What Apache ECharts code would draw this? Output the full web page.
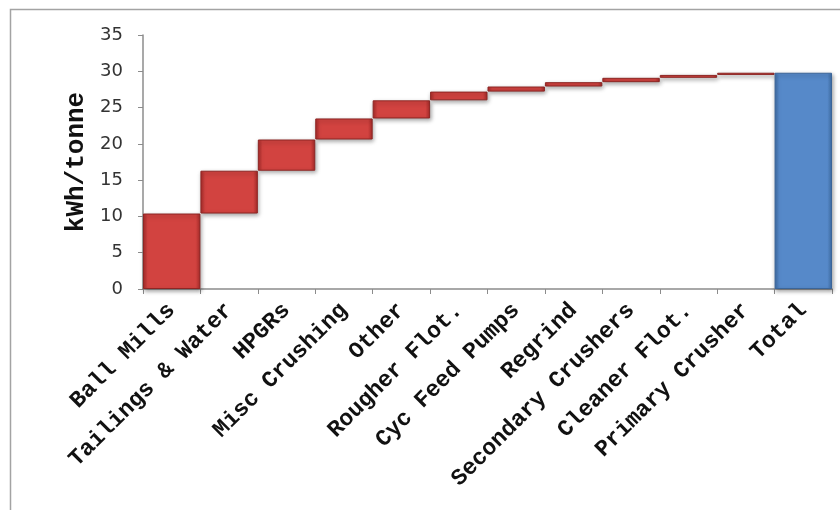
<!DOCTYPE html>
<html>
<head>
<meta charset="utf-8">
<title>Energy use by area (kWh/tonne)</title>
<script src="https://cdn.jsdelivr.net/npm/echarts@6/dist/echarts.min.js"></script>
<style>
  html, body { margin: 0; padding: 0; background: #ffffff; }
  #chart { width: 840px; height: 510px; }
</style>
</head>
<body>
<div id="chart"></div>
<script>
// Plant areas, in the order they are stepped up on the waterfall
const categories = [
  'Ball Mills', 'Tailings & Water', 'HPGRs', 'Misc Crushing', 'Other',
  'Rougher Flot.', 'Cyc Feed Pumps', 'Regrind', 'Secondary Crushers',
  'Cleaner Flot.', 'Primary Crusher', 'Total'
];

// Specific energy of each area, kWh/tonne
const increments = [10.4, 5.9, 4.3, 2.9, 2.5, 1.2, 0.7, 0.6, 0.6, 0.4, 0.3];

// Total specific energy, kWh/tonne
const total = 29.8;

// Y axis
const yMin = 0, yMax = 35, yStep = 5;

// Invisible base of each floating step = running sum of the earlier areas
const bases = [];
let run = 0;
increments.forEach(v => { bases.push(+run.toFixed(2)); run += v; });
bases.push(0);

const redFill = {
  type: 'linear', x: 0, y: 0, x2: 1, y2: 0,
  colorStops: [
    { offset: 0, color: '#a92b29' },
    { offset: 0.08, color: '#d24340' },
    { offset: 0.92, color: '#d24340' },
    { offset: 1, color: '#a92b29' }
  ]
};
const blueFill = {
  type: 'linear', x: 0, y: 0, x2: 1, y2: 0,
  colorStops: [
    { offset: 0, color: '#3f6ea6' },
    { offset: 0.08, color: '#5689c9' },
    { offset: 0.92, color: '#5689c9' },
    { offset: 1, color: '#3f6ea6' }
  ]
};

const stepData = increments.map(v => ({ value: v }));
stepData.push({
  value: total,
  itemStyle: { color: blueFill, borderColor: '#3b6598' }
});

const monoBold = '"Liberation Mono", "Courier New", monospace';

const chart = echarts.init(document.getElementById('chart'), null, { renderer: 'canvas' });

chart.setOption({
  animation: false,
  backgroundColor: '#ffffff',
  graphic: [{
    type: 'rect',
    shape: { x: 10.5, y: 9.5, width: 900, height: 600 },
    style: { fill: 'none', stroke: '#a3a3a3', lineWidth: 1.5 },
    silent: true
  }],
  grid: { left: 143, right: 8, top: 35, bottom: 221, containLabel: false },
  xAxis: {
    type: 'category',
    data: categories,
    boundaryGap: true,
    axisLine: { lineStyle: { color: '#8c8c8c', width: 1.5 } },
    axisTick: { show: true, length: 5, inside: false, lineStyle: { color: '#8c8c8c' } },
    axisLabel: {
      rotate: 45,
      interval: 0,
      margin: 18,
      fontFamily: monoBold,
      fontWeight: 'bold',
      fontSize: 23,
      color: '#111111'
    },
    splitLine: { show: false }
  },
  yAxis: {
    type: 'value',
    min: yMin,
    max: yMax,
    interval: yStep,
    name: 'kWh/tonne',
    nameLocation: 'middle',
    nameGap: 54,
    nameRotate: 90,
    nameTextStyle: {
      fontFamily: monoBold,
      fontWeight: 'bold',
      fontSize: 26,
      color: '#111111'
    },
    axisLine: { show: true, lineStyle: { color: '#8c8c8c', width: 1.5 } },
    axisTick: { show: true, length: 5, lineStyle: { color: '#8c8c8c' } },
    axisLabel: {
      margin: 20,
      fontFamily: '"DejaVu Sans", Verdana, sans-serif',
      fontSize: 18,
      color: '#333333'
    },
    splitLine: { show: false }
  },
  series: [
    {
      name: 'base',
      type: 'bar',
      stack: 'waterfall',
      data: bases,
      itemStyle: { color: 'transparent', borderColor: 'transparent' },
      emphasis: { disabled: true },
      barCategoryGap: '0%',
      silent: true
    },
    {
      name: 'kWh/tonne',
      type: 'bar',
      stack: 'waterfall',
      data: stepData,
      barCategoryGap: '0%',
      itemStyle: {
        color: redFill,
        borderColor: '#8e2624',
        borderWidth: 1,
        shadowColor: 'rgba(0,0,0,0.35)',
        shadowBlur: 4,
        shadowOffsetX: 1,
        shadowOffsetY: 2
      }
    }
  ]
});
</script>
</body>
</html>
